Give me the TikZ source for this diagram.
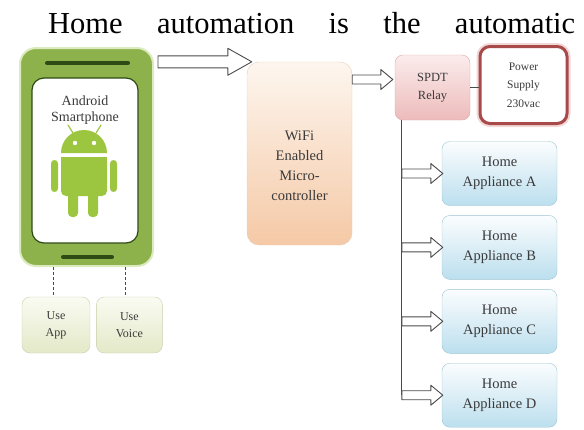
\documentclass[tikz,border=0pt]{standalone}
\usepackage{fontspec}
\setmainfont{Liberation Serif}
\usetikzlibrary{positioning,calc}

\definecolor{phonegreen}{HTML}{8DB24C}
\definecolor{phoneglow}{HTML}{DCEAC0}
\definecolor{phonedark}{HTML}{2E4A14}
\definecolor{droid}{HTML}{9CC640}
\definecolor{txtgray}{HTML}{3A3A3A}
\definecolor{arrowgray}{HTML}{4A4A4A}
\definecolor{peachtop}{HTML}{FDF6EF}
\definecolor{peachbot}{HTML}{F5C9A6}
\definecolor{peachedge}{HTML}{E6CDB8}
\definecolor{pinktop}{HTML}{FBECEC}
\definecolor{pinkbot}{HTML}{EDBBBB}
\definecolor{pinkedge}{HTML}{D9AAAA}
\definecolor{pwrred}{HTML}{A84A4A}
\definecolor{pwrglow}{HTML}{F3D6D6}
\definecolor{apptop}{HTML}{FBFDFE}
\definecolor{appblue}{HTML}{BCDFEE}
\definecolor{appedge}{HTML}{9DC4D4}
\definecolor{usetop}{HTML}{FAFBF2}
\definecolor{usebot}{HTML}{E3E9C8}
\definecolor{useedge}{HTML}{C8D0AA}

% default size of the hollow arrows
\newcommand\arrShaft{4.5}
\newcommand\arrHead{10}
\newcommand\arrLen{12}

\tikzset{
  box/.style={rounded corners=8pt, inner sep=0pt, align=center,
    font=\fontsize{13}{16}\selectfont, text=txtgray},
  appliance/.style={box, minimum width=115pt, minimum height=64pt,
    font=\fontsize{14.5}{20}\selectfont,
    top color=apptop, bottom color=appblue, draw=appedge},
  usebox/.style={box, minimum height=56pt, font=\fontsize{12}{17}\selectfont,
    top color=usetop, bottom color=usebot, draw=useedge},
  link/.style={arrowgray, line width=1pt, dash pattern=on 3pt off 2pt},
  hollow arrow/.style={draw=arrowgray, fill=white, line width=0.9pt, line join=round,
    to path={let \p1=(\tikztostart), \p2=(\tikztotarget) in
      (\x1,\y1+\arrShaft) -- (\x2-\arrLen,\y1+\arrShaft) -- (\x2-\arrLen,\y1+\arrHead)
      -- (\x2,\y1) -- (\x2-\arrLen,\y1-\arrHead) -- (\x2-\arrLen,\y1-\arrShaft)
      -- (\x1,\y1-\arrShaft) -- cycle}},
  big arrow/.code={\def\arrShaft{6}\def\arrHead{13.5}\def\arrLen{24}},
}

\begin{document}
\begin{tikzpicture}[x=1pt, y=-1pt, node distance=9.5pt]
  \useasboundingbox (0,0) rectangle (584,429);

  \node[anchor=base west, inner sep=0pt, font=\fontsize{30.5}{36}\selectfont] (title) at (48,33)
    {\makebox[527pt][s]{Home\hfill automation\hfill is\hfill the\hfill automatic}};

  % the phone
  \node[rounded corners=16pt, minimum width=133pt, minimum height=218pt, fill=phonegreen,
    draw=phoneglow, line width=2pt] (phone) at (86.5,157) {};
  \node[rounded corners=12pt, minimum width=106pt, minimum height=165pt, fill=white,
    draw=phonedark, line width=1.2pt] (screen) at (85,160.5) {};
  \draw[phonedark, line width=4pt, line cap=round] (47,63) -- (128,63);
  \draw[phonedark, line width=4pt, line cap=round] (63,257) -- (112,257);
  \node[align=center, font=\fontsize{14}{16.5}\selectfont, text=txtgray] (phonetxt) at (85,110)
    {Android\\Smartphone};

  % android robot
  \begin{scope}[droid]
    \fill (61,153) arc[start angle=180, end angle=360, radius=23] -- cycle;
    \draw[line width=1.2pt, line cap=round] (73,133) -- (68,125) (96,133) -- (101,125);
    \fill[white] (75,143) circle[radius=2.2] (94,143) circle[radius=2.2];
    \fill[rounded corners=5pt] (61,157) -- (107,157) -- (107,196) -- (61,196) -- cycle;
    \fill (61,157) rectangle (107,170);
    \fill[rounded corners=3.5pt] (51,160) rectangle (58,192) (110,160) rectangle (117,192);
    \fill[rounded corners=4pt] (68,188) rectangle (78,217) (88,188) rectangle (98,217);
  \end{scope}

  \node[usebox, minimum width=68pt] (useapp) at (56,325) {Use\\App};
  \node[usebox, minimum width=66pt, right=6pt of useapp] (usevoice) {Use\\Voice};
  \draw[link] (phone.south -| 53,0) -- (useapp.north -| 53,0);
  \draw[link] (phone.south -| 125,0) -- (usevoice.north -| 125,0);

  % controller, relay and supply
  \node[box, minimum width=105pt, minimum height=183pt, rounded corners=12pt,
    top color=peachtop, bottom color=peachbot, draw=peachedge] (micro) at (299.5,153.5) {};
  \node[align=center, font=\fontsize{14.5}{20}\selectfont, text=txtgray] (microtxt)
    at ([yshift=-12pt]micro.center) {WiFi\\Enabled\\Micro-\\controller};
  \node[box, minimum width=75pt, minimum height=65pt, font=\fontsize{12.5}{18}\selectfont,
    top color=pinktop, bottom color=pinkbot, draw=pinkedge] (relay) at (432.5,87.5)
    {SPDT\\Relay};
  \node[box, minimum width=87pt, minimum height=77pt, rounded corners=10pt,
    font=\fontsize{11.5}{18.5}\selectfont, fill=white, draw=pwrred, line width=3pt,
    preaction={draw=pwrglow, line width=7pt}] (power) at (523.5,85)
    {Power\\Supply\\230vac};
  \draw[arrowgray, thick] (relay.east) -- (relay.east -| power.west);

  % appliances
  \node[appliance] (appA) at (499.5,173.5) {Home\\Appliance A};
  \node[appliance, below=of appA] (appB) {Home\\Appliance B};
  \node[appliance, below=of appB] (appC) {Home\\Appliance C};
  \node[appliance, below=of appC] (appD) {Home\\Appliance D};

  \coordinate (busTop) at ([xshift=7pt]relay.south west);
  \draw[arrowgray, thick] (busTop) -- (busTop |- appD.west);

  \draw[hollow arrow, big arrow] ([xshift=4pt]phone.east |- micro.north west) to ([xshift=5pt]micro.north west);
  \draw[hollow arrow] ([yshift=8pt]micro.east |- relay.west) to ([yshift=8pt,xshift=-2pt]relay.west);
  \foreach \app in {appA,appB,appC,appD}
    \draw[hollow arrow] (busTop |- \app.west) to ([xshift=1pt]\app.west);
\end{tikzpicture}
\end{document}
